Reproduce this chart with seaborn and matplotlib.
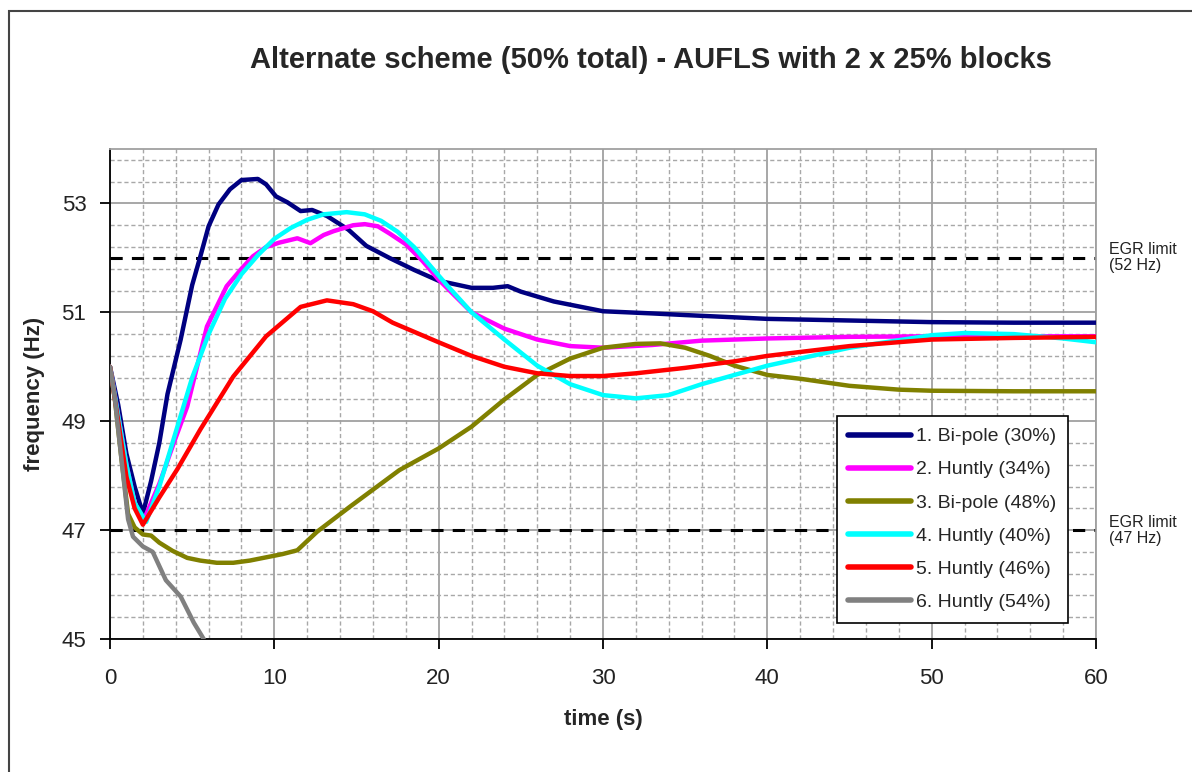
import numpy as np
import pandas as pd
import matplotlib
matplotlib.use("Agg")
import matplotlib.pyplot as plt
from matplotlib.patches import Rectangle
import seaborn as sns

title = "Alternate scheme (50% total) - AUFLS with 2 x 25% blocks"
series_names = ["1. Bi-pole (30%)", "2. Huntly (34%)", "3. Bi-pole (48%)",
                "4. Huntly (40%)", "5. Huntly (46%)", "6. Huntly (54%)"]
series_colors = ["#000080", "#FF00FF", "#808000", "#00FFFF", "#FF0000", "#808080"]

t1 = [0, 0.5, 1.0, 1.5, 2.0, 2.5, 3.0, 3.5, 4.3, 5.0, 5.5, 6.0, 6.6, 7.3, 8.0, 9.0, 9.5, 10.1, 10.8, 11.6, 12.3, 13.2, 14.5, 15.6, 17.0, 18.5, 20.0, 22.0, 23.3, 24.2, 25.0, 27.0, 30.0, 33.0, 35.0, 40.0, 45.0, 50.0, 55.0, 60.0]
f1 = [50.0, 49.3, 48.4, 47.8, 47.3, 47.9, 48.6, 49.5, 50.5, 51.5, 52.03, 52.58, 52.98, 53.26, 53.43, 53.45, 53.35, 53.13, 53.02, 52.86, 52.88, 52.77, 52.52, 52.22, 52.0, 51.78, 51.58, 51.45, 51.45, 51.48, 51.38, 51.2, 51.02, 50.98, 50.95, 50.88, 50.85, 50.82, 50.81, 50.81]

t2 = [0, 0.5, 1.0, 1.5, 2.0, 3.0, 4.0, 4.7, 5.9, 7.1, 8.0, 8.7, 9.5, 10.3, 11.4, 12.2, 13.0, 13.6, 14.8, 15.5, 16.3, 17.0, 18.0, 19.0, 20.0, 22.0, 24.0, 26.0, 28.0, 30.0, 33.0, 36.0, 40.0, 45.0, 50.0, 55.0, 60.0]
f2 = [50.0, 49.1, 48.2, 47.5, 47.15, 47.85, 48.7, 49.27, 50.74, 51.48, 51.8, 52.03, 52.2, 52.28, 52.36, 52.27, 52.42, 52.49, 52.6, 52.62, 52.58, 52.45, 52.25, 51.95, 51.6, 51.0, 50.7, 50.5, 50.38, 50.35, 50.4, 50.48, 50.52, 50.55, 50.56, 50.56, 50.56]

t3 = [0, 0.3, 0.7, 1.1, 1.5, 2.0, 2.5, 3.0, 3.8, 4.7, 5.5, 6.5, 7.5, 8.5, 9.5, 10.5, 11.4, 12.6, 14.6, 17.6, 20.0, 22.0, 24.0, 26.0, 28.0, 30.0, 32.0, 33.5, 35.0, 36.5, 38.0, 40.0, 42.0, 45.0, 48.0, 50.0, 55.0, 60.0]
f3 = [50.0, 49.4, 48.3, 47.3, 47.05, 46.92, 46.9, 46.77, 46.62, 46.49, 46.44, 46.4, 46.4, 46.44, 46.5, 46.56, 46.63, 46.97, 47.43, 48.1, 48.5, 48.9, 49.4, 49.85, 50.15, 50.35, 50.42, 50.43, 50.35, 50.2, 50.02, 49.85, 49.78, 49.65, 49.58, 49.56, 49.55, 49.55]

t4 = [0, 0.5, 1.0, 1.5, 2.2, 3.0, 4.0, 5.0, 6.0, 7.0, 8.0, 9.0, 10.0, 11.0, 12.0, 13.0, 14.4, 15.5, 16.5, 17.5, 18.5, 19.5, 20.5, 22.0, 24.0, 26.0, 28.0, 30.0, 32.0, 34.0, 36.0, 38.0, 40.0, 45.0, 50.0, 52.0, 55.0, 58.0, 60.0]
f4 = [50.0, 49.1, 48.2, 47.5, 47.15, 47.8, 48.8, 49.8, 50.6, 51.25, 51.7, 52.05, 52.35, 52.55, 52.7, 52.8, 52.84, 52.8, 52.68, 52.48, 52.2, 51.85, 51.5, 51.0, 50.5, 50.02, 49.68, 49.48, 49.42, 49.48, 49.68, 49.85, 50.02, 50.35, 50.58, 50.62, 50.6, 50.52, 50.45]

t5 = [0, 0.5, 1.0, 1.5, 2.0, 3.0, 4.1, 5.5, 7.5, 9.5, 11.6, 13.2, 14.8, 16.0, 17.2, 20.0, 22.0, 24.0, 26.0, 28.0, 30.0, 32.0, 35.0, 38.0, 40.0, 45.0, 50.0, 55.0, 60.0]
f5 = [50.0, 49.0, 47.98, 47.4, 47.1, 47.6, 48.12, 48.85, 49.82, 50.56, 51.1, 51.22, 51.15, 51.02, 50.81, 50.45, 50.2, 50.0, 49.88, 49.83, 49.83, 49.88, 49.98, 50.1, 50.2, 50.38, 50.5, 50.53, 50.55]

t6 = [0, 0.3, 0.7, 1.1, 1.4, 2.0, 2.6, 3.4, 4.3, 5.1, 5.7]
f6 = [50.0, 49.4, 48.3, 47.2, 46.88, 46.7, 46.6, 46.08, 45.78, 45.3, 45.0]

egr_high = 52
egr_low = 47
egr_labels = ["EGR limit\n(52 Hz)", "EGR limit\n(47 Hz)"]

ts = [t1, t2, t3, t4, t5, t6]
fs = [f1, f2, f3, f4, f5, f6]
frames = [pd.DataFrame({"time": t, "freq": f, "series": n}) for t, f, n in zip(ts, fs, series_names)]
df = pd.concat(frames, ignore_index=True)

sns.set_theme(style="white")
plt.rcParams["font.family"] = ["Liberation Sans", "DejaVu Sans"]

fig = plt.figure(figsize=(11.92, 7.72), dpi=100)
ax = fig.add_axes([110 / 1192, 1 - 639 / 772, 986 / 1192, 490 / 772])

# grid
ax.set_xlim(0, 60)
ax.set_ylim(45, 54)
ax.set_xticks(np.arange(0, 61, 10))
ax.set_xticks(np.arange(0, 61, 2), minor=True)
ax.set_yticks([45, 47, 49, 51, 53])
ax.set_yticks(np.arange(45, 54.01, 0.4), minor=True)
ax.grid(which="major", color="#a0a0a0", linewidth=1.3, linestyle="-")
ax.grid(which="minor", color="#a8a8a8", linewidth=1.0, linestyle=(0, (3, 2)))
ax.set_axisbelow(True)

ax.axhline(egr_high, color="black", linestyle=(0, (4, 3)), linewidth=2.2, zorder=2)
ax.axhline(egr_low, color="black", linestyle=(0, (4, 3)), linewidth=2.2, zorder=2)

sns.lineplot(data=df, x="time", y="freq", hue="series", palette=dict(zip(series_names, series_colors)),
             hue_order=series_names, sort=False, estimator=None, linewidth=3.2, ax=ax, zorder=3)

for s in ["top", "right"]:
    ax.spines[s].set_color("#a0a0a0")
    ax.spines[s].set_linewidth(1.3)
for s in ["left", "bottom"]:
    ax.spines[s].set_color("black")
    ax.spines[s].set_linewidth(1.3)

ax.tick_params(axis="both", which="major", direction="out", length=7, width=1.3, color="black",
               labelsize=16, bottom=True, left=True)
ax.tick_params(axis="both", which="minor", length=0)
ax.tick_params(axis="x", pad=14)
ax.tick_params(axis="y", pad=10)
for lab in ax.get_xticklabels() + ax.get_yticklabels():
    lab.set_color("#222222")

ax.set_xlabel("time (s)", fontsize=16, fontweight="bold", labelpad=14)
ax.set_ylabel("frequency (Hz)", fontsize=16, fontweight="bold", labelpad=12)

ax.text(1.013, (egr_high - 45) / 9, egr_labels[0], transform=ax.transAxes, fontsize=11.5,
        va="center", ha="left", color="#222222", linespacing=1.1)
ax.text(1.013, (egr_low - 45) / 9, egr_labels[1], transform=ax.transAxes, fontsize=11.5,
        va="center", ha="left", color="#222222", linespacing=1.1)

fig.text(651 / 1192, 1 - 60 / 772, title, fontsize=21, fontweight="bold", ha="center", va="center",
         family=["Liberation Sans Narrow", "Liberation Sans", "DejaVu Sans"])

leg = ax.legend(loc="lower right", bbox_to_anchor=(0.972, 0.033), borderaxespad=0, fontsize=14,
                frameon=True, fancybox=False, edgecolor="black", framealpha=1, handlelength=3.2,
                handletextpad=0.3, labelspacing=0.8, borderpad=0.6, title=None)
leg.get_frame().set_linewidth(1.2)
for line in leg.get_lines():
    line.set_linewidth(4)

fig.patches.append(Rectangle((9 / 1192, -0.05), 1.2, 1 - 11 / 772 + 0.05, transform=fig.transFigure,
                             fill=False, edgecolor="#444444", linewidth=1.5))

fig.savefig("out.png", dpi=100)
